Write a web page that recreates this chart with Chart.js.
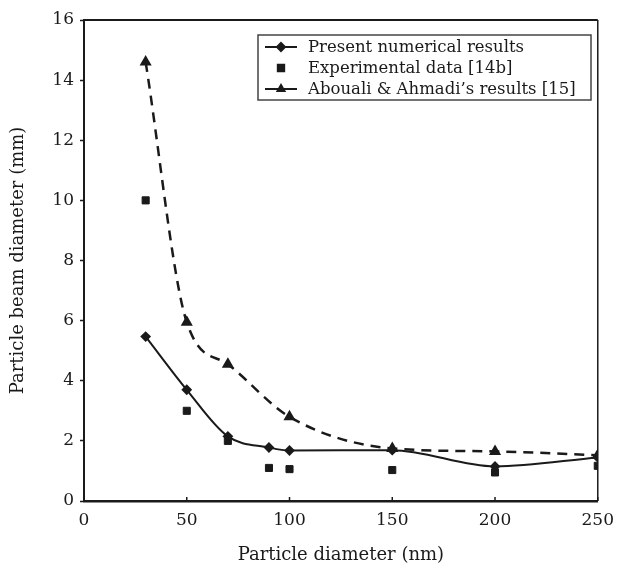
<!DOCTYPE html>
<html>
  <head>
    <script src="https://cdn.jsdelivr.net/npm/chart.js@4.4.1/dist/chart.umd.min.js"></script>
    <style type="text/css">
      html, body { margin: 0; padding: 0; background: #fff; }
      #wrap { width: 623px; height: 567px; }
    </style>
  </head>

  <body>
    <div id="wrap"><canvas id="canvas" width="623" height="567"></canvas></div>

    <script type="text/javascript">
      // particle diameter (nm) vs beam diameter (mm)
      var numericalX = [30, 50, 70, 90, 100, 150, 200, 250];
      var numericalY = [5.47, 3.7, 2.15, 1.78, 1.68, 1.69, 1.15, 1.45];

      var experimentX = [30, 50, 70, 90, 100, 150, 200, 250];
      var experimentY = [10.0, 3.0, 2.0, 1.1, 1.06, 1.03, 0.95, 1.17];

      var aboualiX = [30, 50, 70, 100, 150, 200, 250];
      var aboualiY = [14.6, 5.95, 4.55, 2.8, 1.75, 1.65, 1.52];

      var xTicks = [0, 50, 100, 150, 200, 250];
      var yTicks = [0, 2, 4, 6, 8, 10, 12, 14, 16];

      var seriesNames = [
        "Present numerical results",
        "Experimental data [14b]",
        "Abouali & Ahmadi\u2019s results [15]"
      ];

      var ink = "#1a1a1a";
      var serif = "'DejaVu Serif', 'Liberation Serif', serif";

      var toPoints = function(xs, ys) {
        return xs.map(function(x, i) { return { x: x, y: ys[i] }; });
      };

      // frame, inward x ticks and the boxed legend
      var decorations = {
        id: "decorations",
        afterDraw: function(chart) {
          var ctx = chart.ctx;
          var area = chart.chartArea;
          var xs = chart.scales.x;

          ctx.save();
          ctx.strokeStyle = ink;
          ctx.lineWidth = 2;
          ctx.beginPath();
          ctx.moveTo(area.left, area.top);
          ctx.lineTo(area.right, area.top);
          ctx.stroke();
          ctx.lineWidth = 1.5;
          ctx.beginPath();
          ctx.moveTo(area.right, area.top);
          ctx.lineTo(area.right, area.bottom);
          ctx.stroke();

          xTicks.forEach(function(t) {
            var px = xs.getPixelForValue(t);
            ctx.beginPath();
            ctx.moveTo(px, area.bottom);
            ctx.lineTo(px, area.bottom - 4);
            ctx.stroke();
          });

          // legend box
          var bx = 258, by = 35, bw = 333, bh = 65;
          ctx.lineWidth = 1.5;
          ctx.strokeStyle = "#444";
          ctx.strokeRect(bx, by, bw, bh);

          var rows = [47, 68, 89];
          var styles = ["rectRot", "rect", "triangle"];
          ctx.font = "16.5px " + serif;
          ctx.textBaseline = "middle";
          ctx.fillStyle = ink;
          rows.forEach(function(ry, i) {
            ctx.strokeStyle = ink;
            ctx.lineWidth = 2;
            if (i !== 1) {
              ctx.beginPath();
              ctx.moveTo(265, ry);
              ctx.lineTo(297, ry);
              ctx.stroke();
            }
            Chart.helpers.drawPoint(ctx, {
              pointStyle: styles[i],
              radius: i === 1 ? 4.5 : 4,
              borderWidth: 1
            }, 281, ry);
            ctx.fillStyle = ink;
            ctx.fillText(seriesNames[i], 308, ry + 1);
          });
          ctx.restore();
        }
      };

      var ctx = document.getElementById("canvas").getContext("2d");
      new Chart(ctx, {
        type: "scatter",
        data: {
          datasets: [
            {
              label: seriesNames[0],
              data: toPoints(numericalX, numericalY),
              showLine: true,
              borderColor: ink,
              backgroundColor: ink,
              borderWidth: 2,
              cubicInterpolationMode: "monotone",
              pointStyle: "rectRot",
              pointRadius: 4
            },
            {
              label: seriesNames[1],
              data: toPoints(experimentX, experimentY),
              showLine: false,
              borderColor: ink,
              backgroundColor: ink,
              pointStyle: "rect",
              pointRadius: 5
            },
            {
              label: seriesNames[2],
              data: toPoints(aboualiX, aboualiY),
              showLine: true,
              borderColor: ink,
              backgroundColor: ink,
              borderWidth: 2.5,
              borderDash: [10, 7],
              cubicInterpolationMode: "monotone",
              pointStyle: "triangle",
              pointRadius: 4.5
            }
          ]
        },
        options: {
          responsive: false,
          animation: false,
          layout: { padding: { top: 20, right: 17, left: 0, bottom: 0 } },
          plugins: {
            legend: { display: false },
            tooltip: { enabled: false }
          },
          scales: {
            x: {
              type: "linear",
              min: 0,
              max: 250,
              afterFit: function(scale) { scale.height = 66; },
              afterBuildTicks: function(scale) {
                scale.ticks = xTicks.map(function(v) { return { value: v }; });
              },
              grid: { display: false, drawTicks: false },
              border: { display: true, color: ink, width: 2.5 },
              ticks: {
                padding: 9,
                maxRotation: 0,
                color: ink,
                font: { family: serif, size: 17 }
              },
              title: {
                display: true,
                text: "Particle diameter (nm)",
                color: ink,
                font: { family: serif, size: 18 },
                padding: { top: 0, bottom: 1 }
              }
            },
            y: {
              min: 0,
              max: 16,
              afterFit: function(scale) { scale.width = 84; },
              afterBuildTicks: function(scale) {
                scale.ticks = yTicks.map(function(v) { return { value: v }; });
              },
              grid: { drawOnChartArea: false, tickLength: 4, tickColor: ink, tickWidth: 1.5 },
              border: { display: true, color: ink, width: 2 },
              ticks: {
                padding: 6,
                color: ink,
                font: { family: serif, size: 17 }
              },
              title: {
                display: true,
                text: "Particle beam diameter (mm)",
                color: ink,
                font: { family: serif, size: 18 },
                padding: { top: 8, bottom: 0 }
              }
            }
          }
        },
        plugins: [decorations]
      });
    </script>
  </body>
</html>
